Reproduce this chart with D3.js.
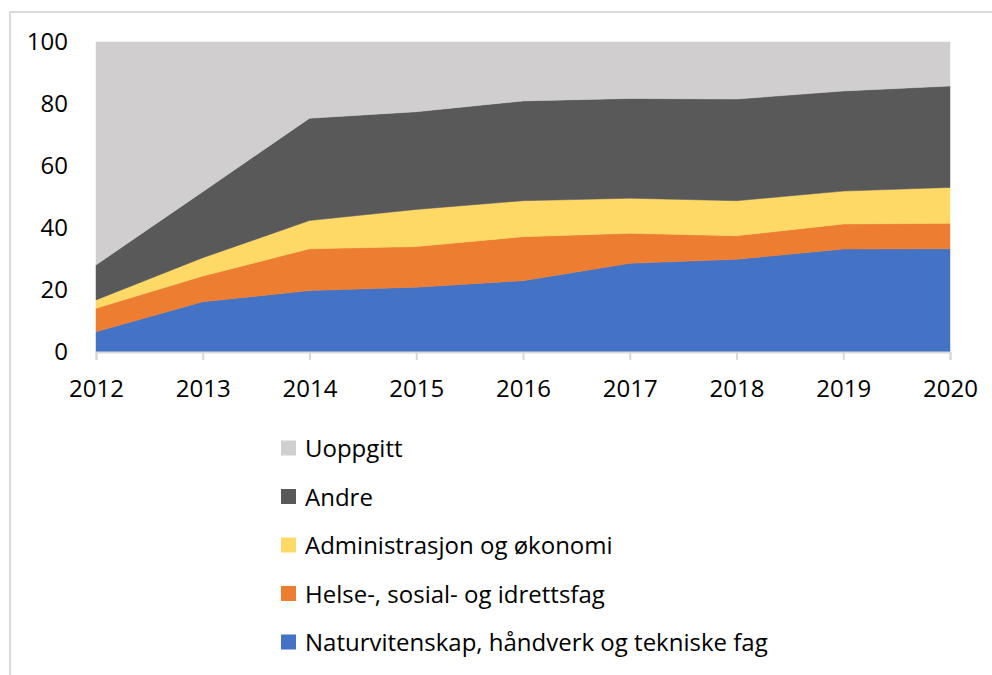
<!DOCTYPE html>
<html>
<head>
<meta charset="utf-8">
<script src="https://cdn.jsdelivr.net/npm/d3@7"></script>
<style>
  html, body { margin: 0; padding: 0; background: #fff; }
  svg { display: block; }
  text { font-family: "Open Sans", "Liberation Sans", sans-serif; fill: #000; }
</style>
</head>
<body>
<svg id="chart" width="992" height="675"></svg>
<script>
const years = [2012, 2013, 2014, 2015, 2016, 2017, 2018, 2019, 2020];
const seriesNames = [
  "Naturvitenskap, håndverk og tekniske fag",
  "Helse-, sosial- og idrettsfag",
  "Administrasjon og økonomi",
  "Andre",
  "Uoppgitt"
];
const natur    = [6.5, 16.2, 19.8, 20.9, 23.0, 28.6, 29.9, 33.2, 33.3];
const helse    = [7.6, 8.3, 13.5, 13.1, 14.2, 9.7, 7.6, 8.1, 8.2];
const admin    = [2.7, 5.9, 9.1, 12.0, 11.6, 11.3, 11.3, 10.6, 11.6];
const andre    = [11.3, 21.3, 33.0, 31.5, 32.2, 32.2, 32.8, 32.3, 32.7];
const uoppgitt = [71.9, 48.3, 24.6, 22.5, 19.0, 18.2, 18.4, 15.8, 14.2];
const yTicks = [0, 20, 40, 60, 80, 100];
const colors = ["#4472C4", "#ED7D31", "#FFD966", "#595959", "#D0CECE"];

(function () {
const seriesValues = [natur, helse, admin, andre, uoppgitt];
const table = years.map((yr, i) => {
  const row = { year: yr };
  seriesNames.forEach((n, k) => row[n] = seriesValues[k][i]);
  return row;
});

const svg = d3.select("#chart");
const FS = 24;

// outer chart frame
svg.append("rect")
  .attr("x", 10).attr("y", 12)
  .attr("width", 1000).attr("height", 700)
  .attr("fill", "none").attr("stroke", "#D9D9D9").attr("stroke-width", 2);

const pLeft = 96, pRight = 950, pTop = 42, pBottom = 352;
const x = d3.scaleLinear().domain([2012, 2020]).range([pLeft, pRight]);
const y = d3.scaleLinear().domain([0, 100]).range([pBottom, pTop]);

const stacked = d3.stack().keys(seriesNames)(table);

const area = d3.area()
  .x(d => x(d.data.year))
  .y0(d => y(d[0]))
  .y1(d => y(d[1]));

svg.append("g").selectAll("path")
  .data(stacked)
  .join("path")
  .attr("d", area)
  .attr("fill", (d, i) => colors[i])
  .attr("stroke", (d, i) => colors[i])
  .attr("stroke-width", 0.5);

// x axis
const xAxis = d3.axisBottom(x)
  .tickValues(years)
  .tickFormat(d3.format("d"))
  .tickSize(8)
  .tickPadding(20);
const gx = svg.append("g")
  .attr("transform", `translate(0,${pBottom})`)
  .call(xAxis);
gx.select(".domain").attr("stroke", "#D9D9D9").attr("stroke-width", 2);
gx.selectAll(".tick line").attr("stroke", "#D9D9D9").attr("stroke-width", 2);
gx.selectAll(".tick text").attr("font-size", FS).attr("font-family", "Open Sans").attr("fill", "#000");

// y axis (labels only)
const yAxis = d3.axisLeft(y)
  .tickValues(yTicks)
  .tickSize(0)
  .tickPadding(28);
const gy = svg.append("g")
  .attr("transform", `translate(${pLeft},0)`)
  .call(yAxis);
gy.select(".domain").remove();
gy.selectAll(".tick text").attr("font-size", FS).attr("font-family", "Open Sans").attr("fill", "#000");

// legend
const legendOrder = [4, 3, 2, 1, 0];
const lg = svg.append("g");
legendOrder.forEach((k, j) => {
  const cy = 448 + j * 48.5;
  lg.append("rect")
    .attr("x", 281).attr("y", cy - 7.5)
    .attr("width", 15).attr("height", 15)
    .attr("fill", colors[k]);
  lg.append("text")
    .attr("x", 305).attr("y", cy + 9)
    .attr("font-size", FS)
    .text(seriesNames[k]);
});
})();
</script>
</body>
</html>
